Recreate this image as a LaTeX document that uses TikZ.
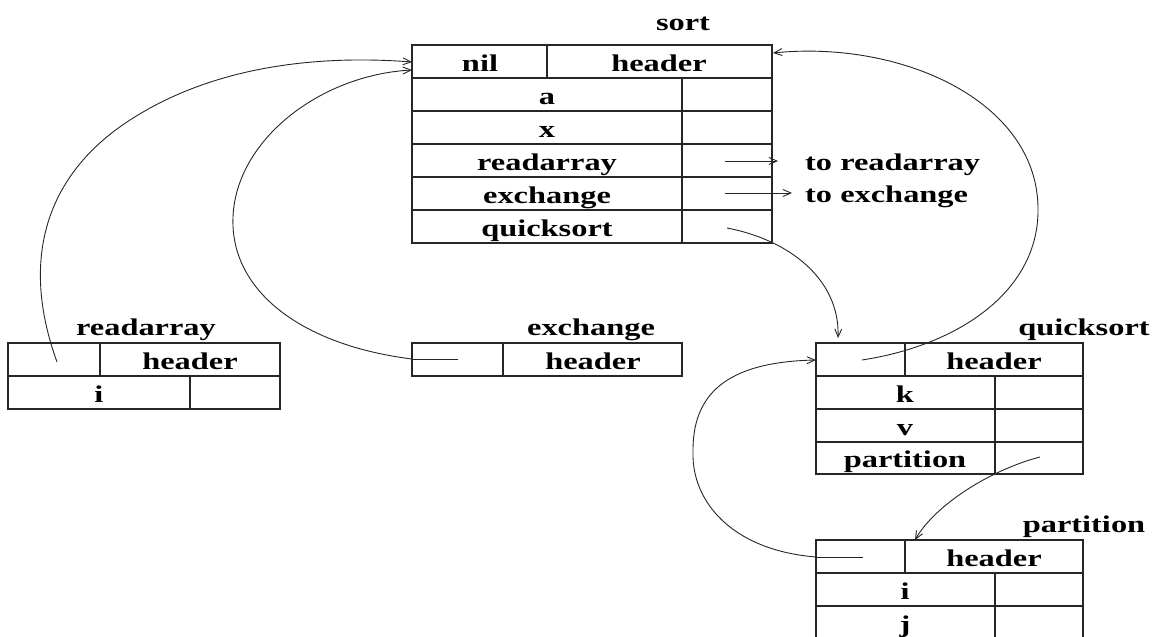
\documentclass[tikz,border=0pt]{standalone}
\usepackage{fontspec}
\newfontfamily\tfont[FakeStretch=1.35]{Liberation Serif}
\usetikzlibrary{arrows.meta}
\begin{document}
\begin{tikzpicture}[x=1pt,y=-1pt,
  tbl/.style={line width=1.2pt,black!85},
  txt/.style={font=\tfont\bfseries\fontsize{24}{28}\selectfont,anchor=base,inner sep=0pt},
  ltxt/.style={txt,anchor=base west},
  link/.style={line width=0.9pt,black!85,-{Straight Barb[length=8pt,width=7pt]}},
  plain/.style={line width=0.9pt,black!85}]
\useasboundingbox (0,0) rectangle (1157,637);
% ---------- sort ----------
\node[txt] (sortlbl) at (683,30) {sort};
\draw[tbl] (412,45) rectangle (772,243);
\foreach \y in {78,111,144,177,210} \draw[tbl] (412,\y) -- (772,\y);
\draw[tbl] (547,45) -- (547,78);
\draw[tbl] (682,78) -- (682,243);
\node[txt] (snil) at (480,71) {nil};
\node[txt] (shdr) at (659,71) {header};
\node[txt] (sa) at (547,104) {a};
\node[txt] (sx) at (547,137) {x};
\node[txt] (sra) at (547,170) {readarray};
\node[txt] (sex) at (547,203) {exchange};
\node[txt] (sqs) at (547,236) {quicksort};
\node[ltxt] (tora) at (805,170) {to readarray};
\node[ltxt] (toex) at (805,202) {to exchange};
% ---------- readarray ----------
\node[txt] (ralbl) at (146,335) {readarray};
\draw[tbl] (8,343) rectangle (280,409);
\draw[tbl] (8,376) -- (280,376);
\draw[tbl] (100,343) -- (100,376);
\draw[tbl] (190,376) -- (190,409);
\node[txt] (rahdr) at (190,369) {header};
\node[txt] (rai) at (99,402) {i};
% ---------- exchange ----------
\node[txt] (exlbl) at (591,335) {exchange};
\draw[tbl] (412,343) rectangle (682,376);
\draw[tbl] (503,343) -- (503,376);
\node[txt] (exhdr) at (593,369) {header};
% ---------- quicksort ----------
\node[txt] (qslbl) at (1084,335) {quicksort};
\draw[tbl] (816,343) rectangle (1083,474);
\foreach \y in {376,409,442} \draw[tbl] (816,\y) -- (1083,\y);
\draw[tbl] (905,343) -- (905,376);
\draw[tbl] (995,376) -- (995,474);
\node[txt] (qshdr) at (994,369) {header};
\node[txt] (qsk) at (905,402) {k};
\node[txt] (qsv) at (905,435) {v};
\node[txt] (qspart) at (905,467) {partition};
% ---------- partition ----------
\node[txt] (ptlbl) at (1084,532) {partition};
\draw[tbl] (816,540) rectangle (1083,645);
\foreach \y in {573,606} \draw[tbl] (816,\y) -- (1083,\y);
\draw[tbl] (905,540) -- (905,573);
\draw[tbl] (995,573) -- (995,645);
\node[txt] (pthdr) at (994,566) {header};
\node[txt] (pti) at (905,599) {i};
\node[txt] (ptj) at (905,632) {j};
% ---------- connector end points ----------
\coordinate (raLink) at (57,362);
\coordinate (exLink) at (458,359);
\coordinate (exEdge) at (412,359);
\coordinate (sortInA) at (412,62);
\coordinate (sortInB) at (412,70);
\coordinate (sortInR) at (773,53);
\coordinate (sRaPtr) at (725,161);
\coordinate (sRaEnd) at (778,161);
\coordinate (sExPtr) at (725,193);
\coordinate (sExEnd) at (792,193);
\coordinate (sQsPtr) at (727,228);
\coordinate (qsTop) at (838,338);
\coordinate (qsLink) at (862,360);
\coordinate (qsLeft) at (816,360);
\coordinate (qsPartPtr) at (1040,457);
\coordinate (ptTop) at (915,540);
\coordinate (ptLink) at (863,557);
\coordinate (ptEdge) at (816,557);
% ---------- connectors ----------
\draw[link] (raLink) .. controls (20,260) and (45,175) .. (130,120)
                     .. controls (215,65) and (320,55) .. (sortInA);
\draw[plain] (exLink) -- (exEdge);
\draw[link] (exEdge) .. controls (300,345) and (230,290) .. (233,217)
                     .. controls (236,140) and (320,75) .. (sortInB);
\draw[link] (sRaPtr) -- (sRaEnd);
\draw[link] (sExPtr) -- (sExEnd);
\draw[link] (sQsPtr) .. controls (790,240) and (840,280) .. (qsTop);
\draw[link] (qsLink) .. controls (960,345) and (1040,290) .. (1038,207)
                     .. controls (1036,100) and (900,40) .. (sortInR);
\draw[link] (qsPartPtr) .. controls (990,470) and (935,505) .. (ptTop);
\draw[plain] (ptLink) -- (ptEdge);
\draw[link] (ptEdge) .. controls (730,550) and (692,500) .. (693,453)
                     .. controls (692,395) and (725,362) .. (qsLeft);
\end{tikzpicture}
\end{document}
